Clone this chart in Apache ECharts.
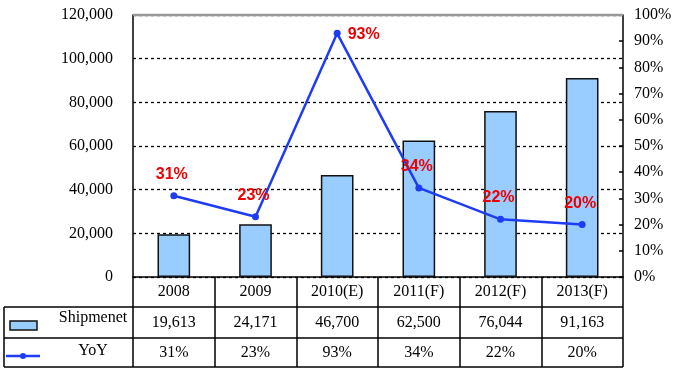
<!DOCTYPE html>
<html>
<head>
<meta charset="utf-8">
<script src="https://cdn.jsdelivr.net/npm/echarts@6/dist/echarts.min.js"></script>
<style>html,body{margin:0;padding:0;background:#fff}#c{width:680px;height:371px}</style>
</head>
<body>
<div id="c"></div>
<script>
var categories = ['2008', '2009', '2010(E)', '2011(F)', '2012(F)', '2013(F)'];
var shipment = [19613, 24171, 46700, 62500, 76044, 91163];
var yoy = [31, 23, 93, 34, 22, 20];
var leftTicks = [0, 20000, 40000, 60000, 80000, 100000, 120000];
var rightTicks = [0, 10, 20, 30, 40, 50, 60, 70, 80, 90, 100];

function fmt(n) { return n.toString().replace(/\B(?=(\d{3})+(?!\d))/g, ','); }

var serif = '"Liberation Serif", "Times New Roman", serif';
var chart = echarts.init(document.getElementById('c'));

var lineData = yoy.map(function (v, i) {
  var d = { value: v };
  if (i === 2) {
    d.label = { position: 'right', distance: 7, offset: [0, 1] };
  }
  return d;
});

chart.setOption({
  animation: false,
  grid: { left: 133, right: 57, top: 15, bottom: 94 },
  xAxis: {
    type: 'category',
    data: categories,
    axisLine: { lineStyle: { color: '#000', width: 1.5 } },
    axisTick: { show: true, length: 90, lineStyle: { color: '#000', width: 1.5 } },
    axisLabel: {
      interval: 0,
      margin: 0,
      fontFamily: serif,
      fontSize: 16,
      color: '#000',
      formatter: function (val, idx) {
        return '{y|' + val + '}\n{s|' + fmt(shipment[idx]) + '}\n{p|' + yoy[idx] + '%}';
      },
      rich: {
        y: { lineHeight: 30, fontFamily: serif, fontSize: 16, color: '#000' },
        s: { lineHeight: 31, fontFamily: serif, fontSize: 16, color: '#000' },
        p: { lineHeight: 29, fontFamily: serif, fontSize: 16, color: '#000' }
      }
    }
  },
  yAxis: [{
    type: 'value',
    min: leftTicks[0],
    max: leftTicks[leftTicks.length - 1],
    interval: 20000,
    axisLine: { show: true, lineStyle: { color: '#000', width: 1.5 } },
    axisTick: { show: false },
    axisLabel: {
      margin: 20,
      fontFamily: serif,
      fontSize: 16,
      color: '#000',
      formatter: function (v) { return fmt(v); }
    },
    splitLine: { show: true, lineStyle: { color: '#000', type: [3, 3], width: 1.3 } }
  }, {
    type: 'value',
    min: rightTicks[0],
    max: rightTicks[rightTicks.length - 1],
    interval: 10,
    position: 'right',
    axisLine: { show: true, lineStyle: { color: '#000', width: 1.5 } },
    axisTick: { show: true, inside: true, length: 4, lineStyle: { color: '#000', width: 1.5 } },
    axisLabel: {
      margin: 11,
      fontFamily: serif,
      fontSize: 16,
      color: '#000',
      formatter: '{value}%'
    },
    splitLine: { show: false }
  }],
  series: [{
    name: 'Shipmenet',
    type: 'bar',
    data: shipment,
    barWidth: '40%',
    itemStyle: { color: '#99CCFF', borderColor: '#111', borderWidth: 1.5 }
  }, {
    name: 'YoY',
    type: 'line',
    yAxisIndex: 1,
    data: lineData,
    symbol: 'circle',
    symbolSize: 7,
    lineStyle: { color: '#1F3CF5', width: 2.5 },
    itemStyle: { color: '#1F3CF5' },
    label: {
      show: true,
      position: 'top',
      distance: 10,
      offset: [-2, 0],
      formatter: '{c}%',
      color: '#EE0000',
      fontFamily: '"Liberation Sans", Arial, sans-serif',
      fontWeight: 'bold',
      fontSize: 16
    },
    z: 5
  }],
  graphic: [
    { type: 'line', z: 100, shape: { x1: 133, y1: 15, x2: 623, y2: 15 }, style: { stroke: '#999', lineWidth: 2.5 } },
    { type: 'line', shape: { x1: 4, y1: 307, x2: 623, y2: 307 }, style: { stroke: '#000', lineWidth: 1.5 } },
    { type: 'line', shape: { x1: 4, y1: 338, x2: 623, y2: 338 }, style: { stroke: '#000', lineWidth: 1.5 } },
    { type: 'line', shape: { x1: 4, y1: 367, x2: 623, y2: 367 }, style: { stroke: '#000', lineWidth: 1.5 } },
    { type: 'line', shape: { x1: 4, y1: 307, x2: 4, y2: 367 }, style: { stroke: '#000', lineWidth: 1.5 } },
    { type: 'rect', shape: { x: 10, y: 321, width: 27, height: 9 }, style: { fill: '#99CCFF', stroke: '#111', lineWidth: 1.5 } },
    { type: 'text', style: { text: 'Shipmenet', x: 93, y: 318, align: 'center', verticalAlign: 'middle', font: '16px ' + serif, fill: '#000' } },
    { type: 'line', shape: { x1: 6, y1: 356, x2: 40, y2: 356 }, style: { stroke: '#1F3CF5', lineWidth: 2.5 } },
    { type: 'circle', shape: { cx: 23, cy: 356, r: 3 }, style: { fill: '#1F3CF5' } },
    { type: 'text', style: { text: 'YoY', x: 93, y: 351, align: 'center', verticalAlign: 'middle', font: '16px ' + serif, fill: '#000' } }
  ]
});
</script>
</body>
</html>
